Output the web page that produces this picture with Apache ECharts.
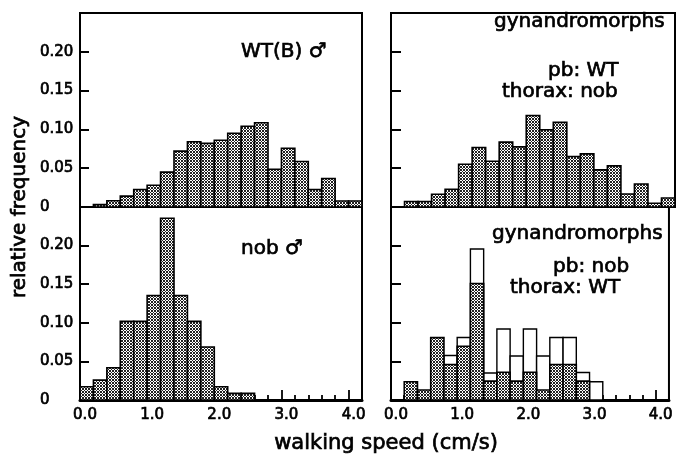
<!DOCTYPE html>
<html>
<head>
<meta charset="utf-8">
<script src="https://cdn.jsdelivr.net/npm/echarts@6/dist/echarts.min.js"></script>
<style>
  html, body { margin: 0; padding: 0; background: #fff; }
  #chart { width: 676px; height: 455px; }
</style>
</head>
<body>
<div id="chart"></div>
<script>
// bin starts (cm/s), every bin is 0.2 wide
var binStarts = [0.0, 0.2, 0.4, 0.6, 0.8, 1.0, 1.2, 1.4, 1.6, 1.8, 2.0,
                 2.2, 2.4, 2.6, 2.8, 3.0, 3.2, 3.4, 3.6, 3.8, 4.0];
var binWidth = 0.2;

// relative frequency
var wtMale = [0, 0.003, 0.008, 0.014, 0.0225, 0.028, 0.045, 0.072, 0.084, 0.082, 0.086,
              0.095, 0.104, 0.1085, 0.0487, 0.0758, 0.0586, 0.0225, 0.0367, 0.0078, 0.0078];
var nobMale = [0.0172, 0.0258, 0.0417, 0.1018, 0.1018, 0.1353, 0.2354, 0.1353, 0.1018, 0.0687, 0.0172,
               0.0086, 0.0086, 0, 0, 0, 0, 0, 0, 0, 0];
var gynPbWT = [0, 0.007, 0.007, 0.0164, 0.0228, 0.055, 0.0767, 0.059, 0.0836, 0.0775, 0.118,
               0.0995, 0.109, 0.065, 0.0685, 0.0478, 0.053, 0.0168, 0.0297, 0.0048, 0.0116];
var gynPbNobHatched = [0, 0.0236, 0.0129, 0.0808, 0.046, 0.0696, 0.151, 0.0245, 0.036, 0.0245, 0.036,
                       0.0129, 0.046, 0.046, 0.0245, 0, 0, 0, 0, 0, 0];
var gynPbNobOpen = [0, 0, 0, 0, 0.0576, 0.081, 0.1955, 0.035, 0.092, 0.057, 0.092,
                    0.057, 0.081, 0.081, 0.0357, 0.0236, 0, 0, 0, 0, 0];

var yTicks = [0, 0.05, 0.10, 0.15, 0.20, 0.25];

var FONT = '"DejaVu Sans", sans-serif';

// fine cross hatch fill, reads as grey like the printed one
var hatch = document.createElement('canvas');
hatch.width = 3;
hatch.height = 3;
var hctx = hatch.getContext('2d');
hctx.fillStyle = '#fff';
hctx.fillRect(0, 0, 3, 3);
hctx.fillStyle = '#222';
for (var y = 0; y < 3; y++) {
	for (var x = 0; x < 3; x++) {
		if ((x + y) % 3 === 0 || x === y) {
			hctx.fillRect(x, y, 1, 1);
		}
	}
}
var hatchFill = { image: hatch, repeat: 'repeat' };

function pairs(values) {
	return binStarts.map(function (x, i) { return [x, values[i]]; });
}

function histItem(fill, lineWidth) {
	return function (params, api) {
		var x0 = api.value(0);
		var v = api.value(1);
		if (!v) {
			return;
		}
		var p0 = api.coord([x0, 0]);
		var p1 = api.coord([x0 + binWidth, v]);
		return {
			type: 'rect',
			shape: { x: p0[0], y: p1[1], width: p1[0] - p0[0], height: p0[1] - p1[1] },
			style: { fill: fill, stroke: '#000', lineWidth: lineWidth }
		};
	};
}

function histSeries(idx, values, fill, lw) {
	return {
		type: 'custom',
		xAxisIndex: idx,
		yAxisIndex: idx,
		renderItem: histItem(fill, lw),
		encode: { x: 0, y: 1 },
		data: pairs(values),
		silent: true
	};
}

var grids = [
	{ left: 80, top: 13, width: 282, height: 194 },
	{ left: 80, top: 207, width: 282, height: 193 },
	{ left: 391, top: 13, width: 284, height: 194 },
	{ left: 391, top: 207, width: 284, height: 193 }
].map(function (g) {
	g.show = true;
	g.borderColor = '#000';
	g.borderWidth = 2;
	return g;
});

function xAxisFor(idx, bottom) {
	return {
		type: 'value',
		gridIndex: idx,
		min: 0,
		max: 4.2,
		interval: 1,
		axisLine: { show: true, lineStyle: { color: '#000', width: bottom ? 3 : 2 } },
		axisTick: { show: bottom, inside: true, length: 10, lineStyle: { color: '#000', width: 1.8 } },
		minorTick: { show: bottom, splitNumber: 5, length: 5, lineStyle: { color: '#000', width: 1.8 } },
		splitLine: { show: false },
		axisLabel: {
			show: bottom,
			color: '#000',
			fontFamily: FONT,
			fontSize: 15,
			textBorderColor: '#000',
			textBorderWidth: 0.7,
			margin: 8,
			padding: [0, 0, 0, 10],
			formatter: function (v) {
				return Math.abs(v - Math.round(v)) < 1e-6 ? v.toFixed(1) : '';
			}
		}
	};
}

function yAxisFor(idx, labels) {
	return {
		type: 'value',
		gridIndex: idx,
		min: yTicks[0],
		max: yTicks[yTicks.length - 1],
		interval: 0.05,
		axisLine: { show: true, lineStyle: { color: '#000', width: 2 } },
		axisTick: { show: true, inside: true, length: labels ? 9 : 10, lineStyle: { color: '#000', width: 2 } },
		splitLine: { show: false },
		axisLabel: {
			show: labels,
			color: '#000',
			fontFamily: FONT,
			fontSize: 15,
			textBorderColor: '#000',
			textBorderWidth: 0.7,
			align: 'left',
			margin: 40,
			formatter: function (v) {
				if (v === 0) return '0';
				if (v > 0.24) return '';
				return v.toFixed(2);
			}
		}
	};
}

function textEl(text, x, y, size, align) {
	return {
		type: 'text',
		x: x,
		y: y,
		style: {
			text: text, font: size + 'px ' + FONT, fill: '#000',
			stroke: '#000', lineWidth: 0.7,
			align: align || 'left', verticalAlign: 'middle'
		}
	};
}

var yTitle = textEl('relative frequency', 20, 207, 20, 'center');
yTitle.rotation = Math.PI / 2;

var chart = echarts.init(document.getElementById('chart'));
chart.setOption({
	animation: false,
	backgroundColor: '#fff',
	grid: grids,
	xAxis: [xAxisFor(0, false), xAxisFor(1, true), xAxisFor(2, false), xAxisFor(3, true)],
	yAxis: [yAxisFor(0, true), yAxisFor(1, true), yAxisFor(2, false), yAxisFor(3, false)],
	series: [
		histSeries(0, wtMale, hatchFill, 1.6),
		histSeries(1, nobMale, hatchFill, 1.6),
		histSeries(2, gynPbWT, hatchFill, 1.6),
		histSeries(3, gynPbNobOpen, '#fff', 1.4),
		histSeries(3, gynPbNobHatched, hatchFill, 1.6)
	],
	graphic: [
		textEl('WT(B) \u2642', 241, 52, 20),
		textEl('nob \u2642', 241, 249, 20),
		textEl('gynandromorphs', 494, 22, 20),
		textEl('pb: WT', 548, 71, 20),
		textEl('thorax: nob', 502, 92, 20),
		textEl('gynandromorphs', 492, 234, 20),
		textEl('pb: nob', 553, 267, 20),
		textEl('thorax: WT', 510, 288, 20),
		textEl('walking speed (cm/s)', 386, 444, 21, 'center'),
		yTitle
	]
});
</script>
</body>
</html>
